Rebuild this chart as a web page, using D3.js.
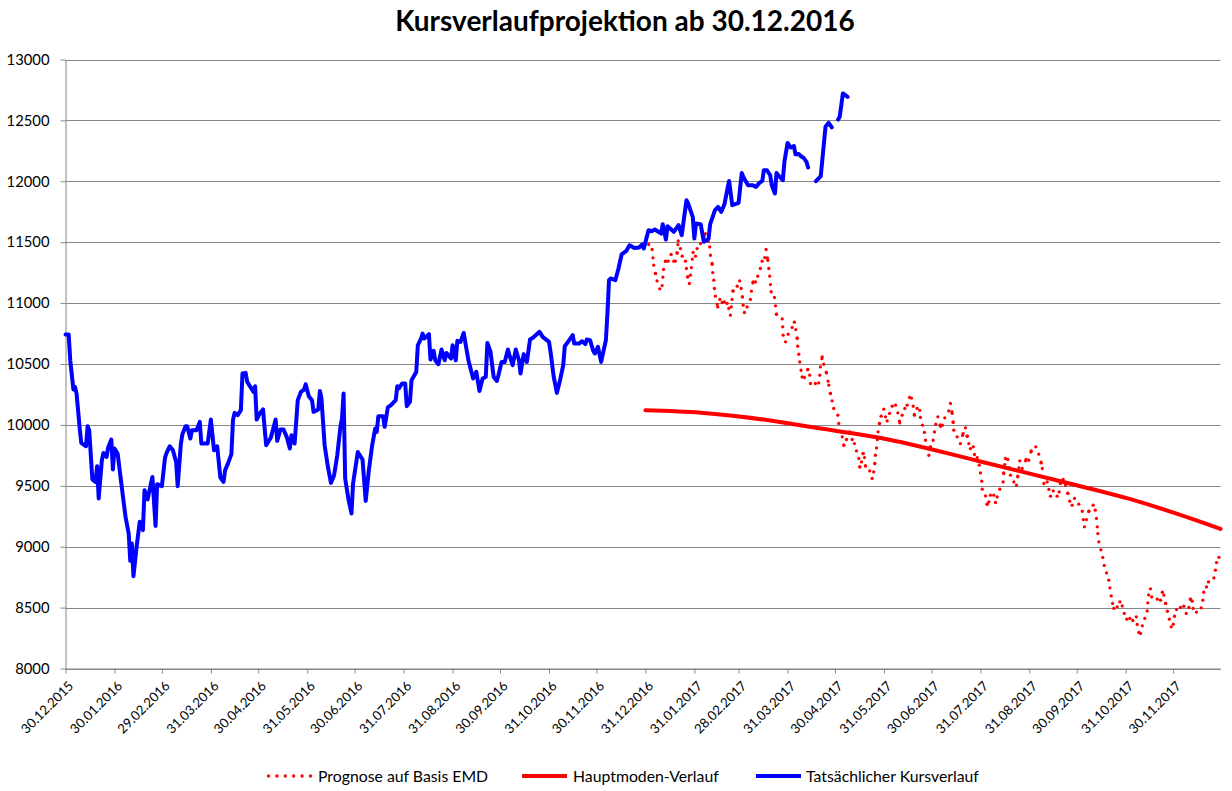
<!DOCTYPE html>
<html><head><meta charset="utf-8">
<script src="https://cdn.jsdelivr.net/npm/d3@7"></script>
<style>body{margin:0;background:#fff}</style>
</head><body>
<svg id="c" width="1232" height="791"></svg>
<script>
const chartTitle = "Kursverlaufprojektion ab 30.12.2016";
const baseDate = "30.12.2015";   // day 0 of the day offsets below
const endDate = "30.12.2017";
const xTickLabels = ["30.12.2015","30.01.2016","29.02.2016","31.03.2016","30.04.2016","31.05.2016",
  "30.06.2016","31.07.2016","31.08.2016","30.09.2016","31.10.2016","30.11.2016","31.12.2016",
  "31.01.2017","28.02.2017","31.03.2017","30.04.2017","31.05.2017","30.06.2017","31.07.2017",
  "31.08.2017","30.09.2017","31.10.2017","30.11.2017"];
const yTicks = [8000,8500,9000,9500,10000,10500,11000,11500,12000,12500,13000];
const seriesNames = ["Prognose auf Basis EMD","Hauptmoden-Verlauf","Tatsächlicher Kursverlauf"];

// Tatsächlicher Kursverlauf (days since 30.12.2015, value)
const blueDay = [0,2,3,5,6,7,9,10,12,13,
14,15,17,19,20,21,23,24,26,27,
29,30,31,33,36,38,40,41,42,43,
45,47,49,50,52,55,57,58,61,63,
64,66,68,70,71,73,74,76,77,79,
80,83,85,86,90,92,94,95,96,98,
100,101,103,105,106,107,109,111,112,114,
115,119,120,121,123,125,127,130,133,134,
136,138,140,142,143,145,147,149,151,152,
154,156,157,160,161,162,164,166,168,170,
172,174,175,176,177,179,181,182,185,188,
190,192,194,196,197,198,201,202,204,206,
209,210,211,213,215,216,218,219,222,223,
225,226,227,230,231,233,234,236,238,240,
241,244,245,247,248,250,252,255,258,260,
262,264,266,267,269,271,273,274,276,278,
280,281,283,285,287,288,290,292,294,296,
300,302,306,307,309,311,313,315,316,318,
321,322,325,327,329,330,332,334,335,337,
339,342,343,344,345,348,350,352,355,357,
360,363,365,366,369,371,373,377,378,380,
381,385,388,390,393,394,397,398,399,402,
404,407,408,409,411,413,415,417,419,420,
422,426,428,429,432,435,437,439,441,442,
444,446,447,449,450,452,454,455,457,459,
461,462,464,466,467,469,470,471,475,478,
481,483,485,488,489,490,492,495];
const blueVal = [10743,10743,10531,10291,10312,10258,9970,9852,9833,9825,
9989,9957,9552,9532,9661,9396,9710,9770,9737,9815,
9880,9634,9806,9765,9450,9245,9108,8884,9026,8758,
8999,9204,9136,9464,9388,9573,9171,9513,9497,9732,
9770,9825,9792,9696,9497,9842,9924,9989,9989,9888,
9957,9957,10025,9847,9847,10044,9792,9800,9825,9568,
9532,9628,9688,9760,10039,10099,10080,10121,10422,10427,
10353,10271,10318,10044,10094,10127,9833,9897,10044,9869,
9962,9962,9902,9806,9915,9847,10203,10271,10290,10334,
10236,10203,10107,10127,10279,10217,9833,9661,9524,9587,
9751,9984,10053,10258,9560,9396,9273,9519,9778,9716,
9376,9628,9825,9970,9943,10072,10072,9984,10143,10162,
10203,10318,10300,10340,10340,10154,10189,10367,10435,10654,
10709,10750,10709,10745,10537,10608,10531,10498,10619,10531,
10591,10545,10654,10531,10690,10682,10755,10531,10381,10435,
10279,10381,10394,10673,10599,10394,10361,10408,10517,10517,
10619,10573,10490,10619,10531,10422,10581,10517,10701,10717,
10764,10723,10682,10599,10394,10263,10367,10490,10646,10682,
10737,10668,10668,10687,10663,10701,10695,10608,10586,10641,
10517,10695,10915,11188,11202,11188,11284,11401,11429,11475,
11453,11456,11481,11448,11598,11590,11604,11571,11648,11522,
11631,11585,11640,11557,11845,11820,11708,11530,11653,11648,
11503,11530,11648,11686,11762,11790,11749,11809,11941,12003,
11804,11823,12069,12036,11968,11968,11954,11985,12003,12091,
12091,12050,11968,11900,12069,12036,12009,12159,12315,12277,
12290,12222,12225,12200,12195,12159,12113,null,12001,12042,
12447,12480,12442,null,12507,12530,12721,12693];

// Prognose auf Basis EMD (days since 30.12.2015, value)
const fcDay = [369.1,371.3,372.3,373.4,374.4,376.1,377.6,378.5,379.7,381.4,
383.3,385.0,386.0,387.1,387.8,389.2,390.3,392.4,393.0,393.8,
394.9,395.5,396.1,397.2,398.7,399.8,401.9,405.0,406.7,407.7,
408.2,409.3,409.6,410.3,410.7,411.3,412.8,414.1,415.6,417.0,
418.7,419.8,420.8,421.9,422.5,425.1,426.7,427.6,428.4,428.9,
429.7,431.4,433.5,434.1,435.2,436.7,438.1,439.8,440.9,442.6,
443.4,444.5,445.1,445.7,446.6,448.7,450.0,453.6,453.9,454.2,
455.7,457.4,459.9,461.3,462.2,463.1,463.4,464.1,464.7,466.2,
467.7,469.8,471.0,471.5,474.6,476.7,477.4,477.8,478.9,479.9,
481.6,483.1,484.1,485.2,486.2,488.8,489.4,491.6,492.6,494.3,
496.4,497.9,499.3,500.6,502.1,502.7,503.8,504.8,505.7,506.3,
509.0,510.5,511.5,512.2,512.6,513.3,514.3,515.2,516.2,517.9,
519.0,520.0,521.5,523.2,525.3,526.8,528.0,529.5,531.2,532.7,
534.2,535.4,536.5,537.3,539.0,540.7,541.1,542.4,543.6,544.3,
546.4,547.4,549.1,550.8,552.1,553.8,555.0,556.5,559.0,560.1,
561.2,561.8,562.2,564.3,566.4,568.1,569.6,570.7,571.7,572.7,
574.5,575.3,577.0,578.3,579.1,579.9,580.2,582.3,583.3,584.4,
585.4,587.5,588.6,589.6,591.3,593.4,593.8,594.9,596.4,598.1,
600.2,601.9,602.7,604.0,605.5,608.0,609.7,611.2,614.1,616.0,
617.5,618.2,619.2,621.3,622.4,623.4,625.1,627.6,628.9,629.7,
631.4,632.9,634.4,635.6,637.1,638.6,641.3,643.5,644.9,646.2,
647.7,650.4,651.7,652.5,653.4,654.0,655.3,656.5,657.4,658.9,
660.3,661.0,661.8,662.7,663.5,665.6,667.3,668.8,670.1,671.7,
673.6,675.5,677.7,678.3,679.3,680.4,681.5,683.1,684.6,685.0,
685.5,686.7,687.4,691.0,693.1,694.2,695.2,696.3,697.4,698.6,
699.8,701.1,701.9,703.2,705.7,707.8,709.3,711.0,712.0,713.1,
713.7,715.8,718.8,719.8,720.4,722.1,723.4,726.8,727.8,728.5,
730.0];
const fcVal = [11481,11440,11311,11243,11182,11117,11144,11276,11344,11344,
11399,11344,11344,11412,11511,11448,11385,11344,11284,11215,
11161,11229,11292,11416,11385,11448,11489,11571,11508,11461,
11393,11319,11251,11188,11120,11057,10969,11030,11005,11010,
10997,10956,10901,11030,11100,11139,11182,11120,11051,10983,
10923,10969,11030,11098,11174,11174,11221,11284,11344,11374,
11440,11352,11284,11221,11093,11046,10909,10870,10805,10737,
10682,10745,10800,10843,10783,10709,10646,10580,10517,10394,
10389,10455,10408,10340,10340,10345,10408,10476,10558,10498,
10427,10326,10258,10197,10135,10080,10012,9902,9833,9880,
9943,9880,9847,9786,9724,9655,9696,9765,9732,9663,
9622,9560,9614,9683,9751,9811,9943,10012,10072,10129,
10066,10033,10094,10154,10162,10099,10017,10080,10135,10162,
10225,10220,10154,10080,10135,10120,10061,9998,9938,9874,
9751,9820,9874,10006,10066,9989,9998,10058,10115,10176,
10094,10020,9957,9902,9847,9929,9976,9907,9847,9806,
9820,9757,9732,9669,9606,9538,9472,9417,9349,9368,
9423,9423,9363,9409,9472,9532,9606,9724,9716,9587,
9532,9505,9579,9705,9642,9716,9710,9786,9820,9760,
9688,9642,9519,9532,9470,9415,9458,9415,9450,9524,
9552,9505,9437,9374,9341,9396,9349,9291,9163,9223,
9291,9341,9300,9232,9108,9040,8974,8912,8846,8785,
8725,8662,8596,8534,8493,8506,8547,8514,8452,8405,
8411,8394,8424,8362,8296,8288,8350,8411,8473,8539,
8604,8654,8588,8569,8561,8626,8602,8534,8470,8405,
8342,8364,8429,8484,8501,8512,8452,8501,8569,8553,
8493,8463,8498,8561,8626,8670,8711,8744,8807,8870,
8913];

// Hauptmoden-Verlauf (days since 30.12.2015, value)
const modeDay = [367,402,444,478,516,579,640,674,706,731];
const modeVal = [10120,10100,10040,9970,9893,9700,9505,9390,9259,9146];

const FONT = "Lato, 'Liberation Sans', sans-serif";
const GRID = "#868686";
const svg = d3.select("#c").style("font-family", FONT);
const parse = d3.utcParse("%d.%m.%Y");
const t0 = parse(baseDate);
const dayToDate = d => new Date(t0.getTime() + d * 864e5);

const L = 65.5, R = 1220.5, T = 59.5, B = 668.5;
const x = d3.scaleUtc().domain([t0, parse(endDate)]).range([L, R]);
const y = d3.scaleLinear().domain([8000, 13000]).range([B, T]);

// title
svg.append("text").attr("x", 625).attr("y", 31).attr("text-anchor", "middle")
  .attr("font-size", 28).attr("font-weight", "bold").attr("fill", "#000").text(chartTitle);

// gridlines
svg.append("g").selectAll("line").data(yTicks).join("line")
  .attr("x1", L).attr("x2", R).attr("y1", d => Math.round(y(d)) + 0.5).attr("y2", d => Math.round(y(d)) + 0.5)
  .attr("stroke", GRID).attr("stroke-width", 1);

// y axis
const gy = svg.append("g").attr("transform", `translate(${L},0)`)
  .call(d3.axisLeft(y).tickValues(yTicks).tickSize(5).tickSizeOuter(0).tickPadding(11).tickFormat(d3.format("d")));
gy.selectAll("path,line").attr("stroke", GRID);
gy.selectAll("text").attr("font-size", 14.8).attr("font-family", FONT).attr("fill", "#000");

// x axis
const tickDates = xTickLabels.map(parse);
const gx = svg.append("g").attr("transform", `translate(0,${B})`)
  .call(d3.axisBottom(x).tickValues(tickDates).tickSize(5).tickSizeOuter(0).tickFormat((d, i) => xTickLabels[i]));
gx.selectAll("path,line").attr("stroke", GRID);
gx.selectAll("text").attr("font-size", 13.2).attr("font-family", FONT).attr("fill", "#000")
  .attr("x", 0).attr("y", 0).attr("dy", "0.35em")
  .attr("transform", "translate(5,15) rotate(-45)").style("text-anchor", "end");

// Hauptmoden-Verlauf
const modePts = modeDay.map((d, i) => ({ t: dayToDate(d), v: modeVal[i] }));
svg.append("path").datum(modePts)
  .attr("d", d3.line().x(p => x(p.t)).y(p => y(p.v)).curve(d3.curveMonotoneX))
  .attr("fill", "none").attr("stroke", "#ff0000").attr("stroke-width", 4).attr("stroke-linecap", "round");

// Prognose (dotted, Excel-like: pattern restarts at each point)
const fcPts = fcDay.map((d, i) => [x(dayToDate(d)), y(fcVal[i])]);
svg.append("g").selectAll("path").data(d3.pairs(fcPts)).join("path")
  .attr("d", p => d3.line()(p))
  .attr("fill", "none").attr("stroke", "#ff0000").attr("stroke-width", 3.3)
  .attr("stroke-linecap", "round").attr("stroke-dasharray", "0 8.4");
svg.append("circle").datum(fcPts[fcPts.length - 1])
  .attr("cx", p => p[0]).attr("cy", p => p[1]).attr("r", 1.65).attr("fill", "#ff0000");

// Tatsächlicher Kursverlauf
const bluePts = blueDay.map((d, i) => ({ t: dayToDate(d), v: blueVal[i] }));
svg.append("path").datum(bluePts)
  .attr("d", d3.line().defined(p => p.v != null).x(p => x(p.t)).y(p => y(p.v)))
  .attr("fill", "none").attr("stroke", "#0000ff").attr("stroke-width", 4)
  .attr("stroke-linejoin", "round").attr("stroke-linecap", "round");

// legend
const LY = 776;
const leg = svg.append("g").attr("font-size", 15.8).attr("fill", "#000");
const legItems = [
  { x1: 268.5, x2: 310.5, tx: 318, color: "#ff0000", dash: "0 8.4", w: 3.3 },
  { x1: 522, x2: 567, tx: 573, color: "#ff0000", dash: null, w: 4 },
  { x1: 756, x2: 801, tx: 806, color: "#0000ff", dash: null, w: 4 }
];
legItems.forEach((it, i) => {
  leg.append("line").attr("x1", it.x1).attr("x2", it.x2).attr("y1", LY).attr("y2", LY)
    .attr("stroke", it.color).attr("stroke-width", it.w).attr("stroke-linecap", it.dash ? "round" : "butt")
    .attr("stroke-dasharray", it.dash);
  leg.append("text").attr("x", it.tx).attr("y", LY).attr("dy", "0.35em").text(seriesNames[i]);
});
</script>
</body></html>
